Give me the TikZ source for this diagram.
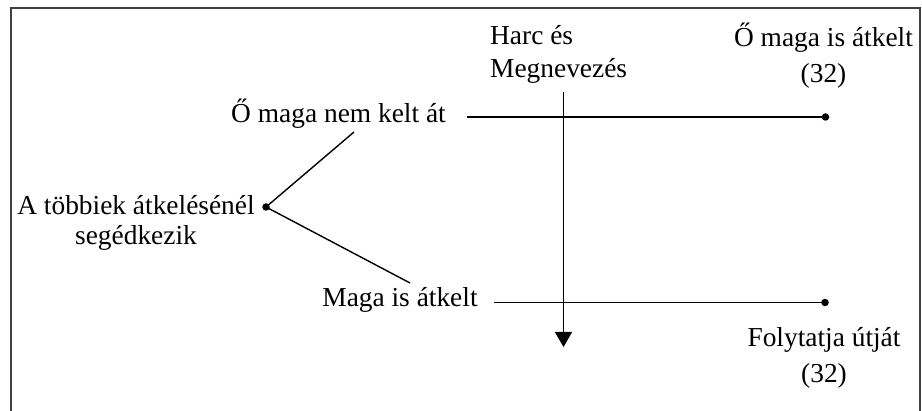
\documentclass[tikz,border=0pt]{standalone}
\usepackage{fontspec}
\setmainfont{Liberation Serif}
\usetikzlibrary{arrows.meta}
\begin{document}
\begin{tikzpicture}[x=1pt,y=-1pt,
  frame/.style={draw=black!75,line width=2pt},
  conn/.style={draw=black,line width=1.4pt},
  dot/.style={circle,fill=black,inner sep=0pt,minimum size=7.5pt},
  lbl/.style={inner sep=0pt,anchor=base,font=\fontsize{27.4pt}{30pt}\selectfont}]
\useasboundingbox (0,0) rectangle (922,411);
% frame (open at the bottom)
\draw[frame] (11,415) -- (11,8) -- (920,8) -- (920,415);
% labels
\node[lbl] (harc) at (490,45) [anchor=base west]
  {\def\arraystretch{1.07}\begin{tabular}[t]{@{}l@{}}Harc és\\Megnevezés\end{tabular}};
\node[lbl] (omagais) at (823.5,47)
  {\def\arraystretch{1.17}\begin{tabular}[t]{@{}c@{}}Ő maga is átkelt\\(32)\end{tabular}};
\node[lbl] (nemkelt) at (338.5,123) {Ő maga nem kelt át};
\node[lbl] (tobbiek) at (136,215)
  {\def\arraystretch{1.0}\begin{tabular}[t]{@{}c@{}}A többiek átkelésénél\\segédkezik\end{tabular}};
\node[lbl] (magais) at (400,306.5) {Maga is átkelt};
\node[lbl] (folyt) at (824,347)
  {\def\arraystretch{1.17}\begin{tabular}[t]{@{}c@{}}Folytatja útját\\(32)\end{tabular}};
% points
\node[dot] (hub) at (266,207) {};
\node[dot] (d1) at (825.5,117) {};
\node[dot] (d2) at (825,302.5) {};
\coordinate (upend) at (354,132);
\coordinate (downend) at (410,283);
\coordinate (l1s) at (467,117);
\coordinate (l2s) at (494,302.5);
\coordinate (vtop) at (563.5,92);
\coordinate (vbot) at (563.5,347);
% connectors
\draw[conn] (hub.center) -- (upend);
\draw[conn] (hub.center) -- (downend);
\draw[conn] (l1s) -- (d1.center);
\draw[conn] (l2s) -- (d2.center);
\draw[conn,-{Triangle[width=17pt,length=15pt]}] (vtop) -- (vbot);
\end{tikzpicture}
\end{document}
